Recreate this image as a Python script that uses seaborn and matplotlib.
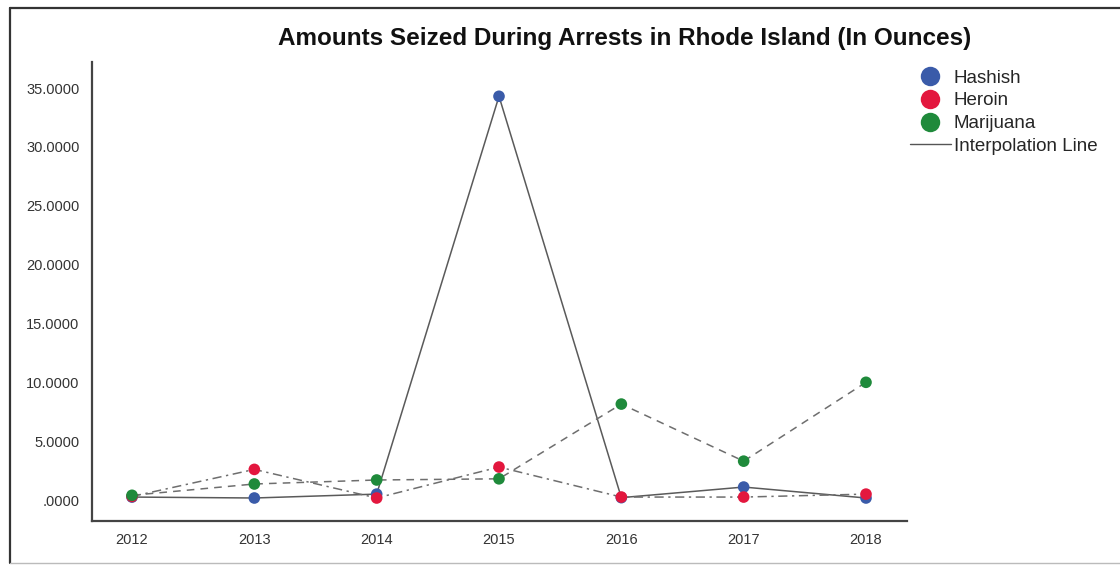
import matplotlib
matplotlib.use("Agg")
import matplotlib.pyplot as plt
from matplotlib.lines import Line2D
import seaborn as sns
import pandas as pd

years = [2012, 2013, 2014, 2015, 2016, 2017, 2018]
hashish = [0.25, 0.17, 0.5, 34.3, 0.2, 1.1, 0.17]
heroin = [0.3, 2.6, 0.17, 2.8, 0.25, 0.25, 0.5]
marijuana = [0.4, 1.36, 1.7, 1.8, 8.15, 3.3, 10.0]
drugs = ["Hashish", "Heroin", "Marijuana"]
y_ticks = [0, 5, 10, 15, 20, 25, 30, 35]
title = "Amounts Seized During Arrests in Rhode Island (In Ounces)"

df = pd.DataFrame({
    "Year": years * 3,
    "Amount": hashish + heroin + marijuana,
    "Drug": sum([[d] * len(years) for d in drugs], []),
})

sns.set_theme(style="white")
plt.rcParams["font.family"] = ["Liberation Sans", "DejaVu Sans"]

colors = {"Hashish": "#3a5ba9", "Heroin": "#e3173e", "Marijuana": "#1f8a3b"}
line_colors = {"Hashish": "#5a5a5a", "Heroin": "#6e6e6e", "Marijuana": "#6e6e6e"}
dashes = {"Heroin": (6, 3, 1.5, 3), "Marijuana": (5, 4)}

fig = plt.figure(figsize=(11.2, 5.65), dpi=100)
ax = fig.add_axes([92/1120, 1-521/565, (907-92)/1120, (521-62)/565])

for d in drugs:
    sub = df[df["Drug"] == d]
    sns.lineplot(data=sub, x="Year", y="Amount", ax=ax, color=line_colors[d],
                 linewidth=1.1, legend=False)
    if d in dashes:
        ax.lines[-1].set_dashes(dashes[d])

for d in drugs:
    sub = df[df["Drug"] == d]
    sns.scatterplot(data=sub, x="Year", y="Amount", ax=ax, color=colors[d],
                    s=70, edgecolor="none", legend=False, zorder=5)

ax.set_xlim(2012 - 40/122.33, 2018 + 41/122.33)
ax.set_ylim(-21/11.77, (500-62)/11.77)
ax.set_xticks(years)
ax.set_xticklabels([str(y) for y in years], fontsize=10.5, color="#333333")
ax.set_yticks(y_ticks)
ax.set_yticklabels([(f"{v:.4f}" if v != 0 else ".0000") for v in y_ticks],
                   fontsize=10.5, color="#333333")
ax.tick_params(axis="x", length=0, pad=9)
ax.tick_params(axis="y", length=0, pad=9)
ax.set_xlabel("")
ax.set_ylabel("")
for s in ["top", "right"]:
    ax.spines[s].set_visible(False)
for s in ["left", "bottom"]:
    ax.spines[s].set_color("#444444")
    ax.spines[s].set_linewidth(1.6)

fig.text(625/1120, 1-38/565, title, ha="center", va="center",
         fontsize=17.5, fontweight="bold", color="#111111")

handles = [Line2D([], [], marker="o", linestyle="none", markersize=14,
                  markerfacecolor=colors[d], markeredgecolor="none", label=d)
           for d in drugs]
handles.append(Line2D([], [], color="#555555", linewidth=1.0, label="Interpolation Line"))
fig.legend(handles=handles, loc="upper left", bbox_to_anchor=(902/1120, 1-62/565),
           frameon=False, fontsize=13.5, handlelength=2.2, handletextpad=0.15,
           labelspacing=0.3, borderaxespad=0)

fig.add_artist(Line2D([10/1120, 10/1120], [1-563/565, 1-8/565], color="#333333",
                      linewidth=1.6, transform=fig.transFigure))
fig.add_artist(Line2D([10/1120, 1.0], [1-8/565, 1-8/565], color="#333333",
                      linewidth=1.6, transform=fig.transFigure))
fig.add_artist(Line2D([10/1120, 1.0], [1-563/565, 1-563/565], color="#bbbbbb",
                      linewidth=1.0, transform=fig.transFigure))

fig.savefig("out.png", dpi=100)
